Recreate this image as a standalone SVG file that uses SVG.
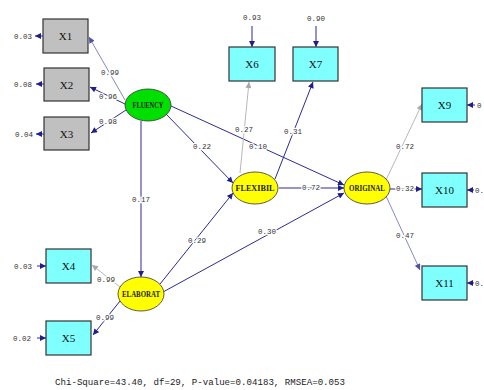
<svg xmlns="http://www.w3.org/2000/svg" width="484" height="390" viewBox="0 0 484 390">
<style>
.box{stroke:#333;stroke-width:1.2}
.obs{fill:#c0c0c0}
.cy{fill:#80ffff}
.lat{stroke:#333;stroke-width:0.8}
.ln{fill:none;stroke:#2b2b95;stroke-width:1}
.lt{fill:none;stroke:#8888c4;stroke-width:1}
.gr{fill:none;stroke:#b8b8b8;stroke-width:1}
.nt{font-family:"Liberation Serif",serif;font-size:11px;fill:#111;text-anchor:middle;dominant-baseline:central}
.et{font-family:"Liberation Serif",serif;font-size:8px;fill:#222;text-anchor:middle;dominant-baseline:central;font-weight:bold}
.lb{font-family:"Liberation Mono",monospace;font-size:7.5px;fill:#333;text-anchor:middle;dominant-baseline:central;stroke:#fff;stroke-width:2.5;paint-order:stroke}
.er{font-family:"Liberation Mono",monospace;font-size:7.5px;fill:#333;dominant-baseline:central}
.ft{font-family:"Liberation Mono",monospace;font-size:9.5px;fill:#222}
</style>
<defs>
<marker id="a" viewBox="0 0 10 10" refX="10" refY="5" markerWidth="7" markerHeight="6" markerUnits="userSpaceOnUse" orient="auto"><path d="M0,0 L10,5 L0,10 z" fill="#1e1e8c"/></marker>
<marker id="ag" viewBox="0 0 10 10" refX="10" refY="5" markerWidth="7" markerHeight="6" markerUnits="userSpaceOnUse" orient="auto"><path d="M0,0 L10,5 L0,10 z" fill="#a8a8a8"/></marker>
<marker id="al" viewBox="0 0 10 10" refX="10" refY="5" markerWidth="7" markerHeight="6" markerUnits="userSpaceOnUse" orient="auto"><path d="M0,0 L10,5 L0,10 z" fill="#5050a8"/></marker>
</defs>
<rect width="484" height="390" fill="#fff"/>

<g id="connectors">
<path class="lt" d="M125,100 L89,37" marker-end="url(#al)"/>
<path class="ln" d="M125,104 L90,87" marker-end="url(#a)"/>
<path class="ln" d="M126,110 L91,133" marker-end="url(#a)"/>
<path class="ln" d="M141,121 L141,277" marker-end="url(#a)"/>
<path class="ln" d="M166,114 L233,183" marker-end="url(#a)"/>
<path class="ln" d="M171,106 L344,185" marker-end="url(#a)"/>
<path class="gr" d="M240,173 L249,82" marker-end="url(#ag)"/>
<path class="ln" d="M275,179 L313,82" marker-end="url(#a)"/>
<path class="ln" d="M279,188 L344,188" stroke-width="2" marker-end="url(#a)"/>
<path class="ln" d="M160,284 L233,193" marker-end="url(#a)"/>
<path class="ln" d="M163,292 L344,193" marker-end="url(#a)"/>
<path class="gr" d="M120,287 L92,265" marker-end="url(#ag)"/>
<path class="ln" d="M120,301 L93,335" marker-end="url(#a)"/>
<path class="gr" d="M386,180 L422,104" marker-end="url(#ag)"/>
<path class="ln" d="M390,189 L422,189" marker-end="url(#a)"/>
<path class="lt" d="M386,196 L420,270" marker-end="url(#al)"/>
<!-- error arrows -->
<path class="ln" d="M43,36 L35,36" marker-end="url(#a)"/>
<path class="ln" d="M44,84 L36,84" marker-end="url(#a)"/>
<path class="ln" d="M44,134 L36,134" marker-end="url(#a)"/>
<path class="ln" d="M37,266 L46,266" marker-end="url(#a)"/>
<path class="ln" d="M37,338 L46,338" marker-end="url(#a)"/>
<path class="ln" d="M252,26 L252,47" marker-end="url(#a)"/>
<path class="ln" d="M316,26 L316,47" marker-end="url(#a)"/>
<path class="ln" d="M475,105 L467,105" marker-end="url(#a)"/>
<path class="ln" d="M474,190 L467,190" marker-end="url(#a)"/>
<path class="ln" d="M474,283 L467,283" marker-end="url(#a)"/>
<!-- path labels -->
<text class="lb" x="110" y="73">0.99</text>
<text class="lb" x="108" y="97">0.96</text>
<text class="lb" x="108" y="122">0.98</text>
<text class="lb" x="141" y="200">0.17</text>
<text class="lb" x="202" y="147">0.22</text>
<text class="lb" x="258" y="147">0.10</text>
<text class="lb" x="244" y="130">0.27</text>
<text class="lb" x="293" y="132">0.31</text>
<text class="lb" x="311" y="188">0.72</text>
<text class="lb" x="197" y="241">0.29</text>
<text class="lb" x="267" y="232">0.30</text>
<text class="lb" x="106" y="280">0.99</text>
<text class="lb" x="105" y="318">0.99</text>
<text class="lb" x="405" y="147">0.72</text>
<text class="lb" x="405" y="189">0.32</text>
<text class="lb" x="405" y="236">0.47</text>
<!-- error labels -->
<text class="er" x="14" y="37">0.03</text>
<text class="er" x="14" y="85">0.08</text>
<text class="er" x="15" y="135">0.04</text>
<text class="er" x="14" y="267">0.03</text>
<text class="er" x="13" y="339">0.02</text>
<text class="er" x="243" y="18">0.93</text>
<text class="er" x="307" y="19">0.90</text>
<text class="er" x="477" y="106">0</text>
<text class="er" x="475" y="191">0.</text>
<text class="er" x="475" y="284">0.</text>
</g>

<g id="X1"><rect class="box obs" x="43" y="19" width="45" height="34"/><text class="nt" x="65.5" y="36">X1</text></g>
<g id="X2"><rect class="box obs" x="44" y="68" width="45" height="33"/><text class="nt" x="66.5" y="85">X2</text></g>
<g id="X3"><rect class="box obs" x="44" y="117" width="45" height="33"/><text class="nt" x="66.5" y="134">X3</text></g>
<g id="X4"><rect class="box cy" x="46" y="249" width="45" height="34"/><text class="nt" x="68.5" y="266">X4</text></g>
<g id="X5"><rect class="box cy" x="46" y="321" width="45" height="34"/><text class="nt" x="68.5" y="338">X5</text></g>
<g id="X6"><rect class="box cy" x="229" y="47" width="46" height="34"/><text class="nt" x="252" y="64">X6</text></g>
<g id="X7"><rect class="box cy" x="293" y="47" width="45" height="34"/><text class="nt" x="315.5" y="64">X7</text></g>
<g id="X9"><rect class="box cy" x="422" y="88" width="45" height="34"/><text class="nt" x="444.5" y="105">X9</text></g>
<g id="X10"><rect class="box cy" x="422" y="173" width="45" height="34"/><text class="nt" x="444.5" y="190">X10</text></g>
<g id="X11"><rect class="box cy" x="422" y="266" width="45" height="34"/><text class="nt" x="444.5" y="283">X11</text></g>

<g id="FLUENCY"><ellipse class="lat" cx="148" cy="105" rx="23" ry="16" fill="#00e000"/><text class="et" x="148" y="105" textLength="31" lengthAdjust="spacingAndGlyphs">FLUENCY</text></g>
<g id="ELABORAT"><ellipse class="lat" cx="141" cy="294" rx="23" ry="17" fill="#ffff00"/><text class="et" x="141" y="294" textLength="38" lengthAdjust="spacingAndGlyphs">ELABORAT</text></g>
<g id="FLEXIBIL"><ellipse class="lat" cx="255" cy="188" rx="23" ry="16" fill="#ffff00"/><text class="et" x="255" y="188" textLength="39" lengthAdjust="spacingAndGlyphs">FLEXIBIL</text></g>
<g id="ORIGINAL"><ellipse class="lat" cx="367" cy="188" rx="23" ry="16" fill="#ffff00"/><text class="et" x="367" y="188" textLength="36" lengthAdjust="spacingAndGlyphs">ORIGINAL</text></g>

<text class="ft" x="55" y="385" textLength="290" lengthAdjust="spacingAndGlyphs">Chi-Square=43.40, df=29, P-value=0.04183, RMSEA=0.053</text>
</svg>
